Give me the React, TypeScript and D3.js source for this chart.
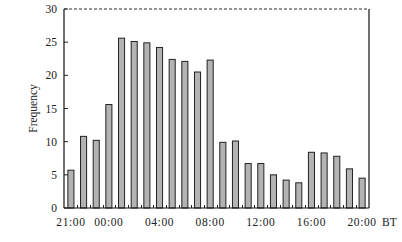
import React from "react";
import * as d3 from "d3";

const hours = ["21", "22", "23", "00", "01", "02", "03", "04", "05", "06", "07", "08", "09", "10", "11", "12", "13", "14", "15", "16", "17", "18", "19", "20"];
const frequency = [5.7, 10.8, 10.2, 15.6, 25.6, 25.1, 24.9, 24.2, 22.4, 22.1, 20.5, 22.3, 9.9, 10.1, 6.7, 6.7, 5.0, 4.2, 3.8, 8.4, 8.3, 7.8, 5.9, 4.5];
const xTickLabels = ["21", "00", "04", "08", "12", "16", "20"];
const yTicks = [0, 5, 10, 15, 20, 25, 30];

export default function App() {
  const W = 402, H = 242;
  const L = 64, R = 369, T = 9, B = 208;
  const x = d3.scaleBand<string>().domain(hours).range([L, R]).paddingInner(0.52).paddingOuter(0.305);
  const y = d3.scaleLinear().domain([0, 30]).range([B, T]);
  const font = "'Liberation Serif', 'Times New Roman', serif";
  const step = x.step();
  return (
    <svg width={W} height={H} style={{ position: "absolute", left: 0, top: 0 }}>
      <rect width={W} height={H} fill="#fff" />
      {hours.map((h, i) => (
        <rect key={h} x={x(h)!} y={y(frequency[i])} width={x.bandwidth()} height={B - y(frequency[i])}
          fill="#b3b3b3" stroke="#222" strokeWidth={1} />
      ))}
      {hours.slice(0, -1).map((h) => {
        const xx = Math.round(x(h)! + x.bandwidth() / 2 + step / 2) + 0.5;
        return <line key={"m" + h} x1={xx} x2={xx} y1={B} y2={B - 3} stroke="#222" strokeWidth={1} />;
      })}
      {yTicks.map((t) => (
        <g key={t}>
          <line x1={L} x2={L + 4} y1={y(t)} y2={y(t)} stroke="#222" strokeWidth={1} />
          <text x={L - 7} y={y(t)} dy="0.35em" textAnchor="end" fontFamily={font} fontSize={11.5} fill="#222">{t}</text>
        </g>
      ))}
      <line x1={L} x2={L} y1={T} y2={B} stroke="#111" strokeWidth={1.2} />
      <line x1={L} x2={R} y1={B} y2={B} stroke="#111" strokeWidth={1.2} />
      <line x1={R} x2={R} y1={T} y2={B} stroke="#111" strokeWidth={1.2} />
      <line x1={L} x2={R} y1={T} y2={T} stroke="#333" strokeWidth={1.2} strokeDasharray="3 2" />
      {xTickLabels.map((h) => (
        <text key={h} x={x(h)! + x.bandwidth() / 2} y={B + 18} textAnchor="middle" fontFamily={font} fontSize={11.5} fill="#222" letterSpacing={0.6}>
          {h + ":00"}
        </text>
      ))}
      <text x={382} y={B + 18} fontFamily={font} fontSize={11.5} fill="#222">BT</text>
      <text transform={`translate(37,${(T + B) / 2}) rotate(-90)`} textAnchor="middle" fontFamily={font} fontSize={11.5} fill="#222">Frequency</text>
    </svg>
  );
}
